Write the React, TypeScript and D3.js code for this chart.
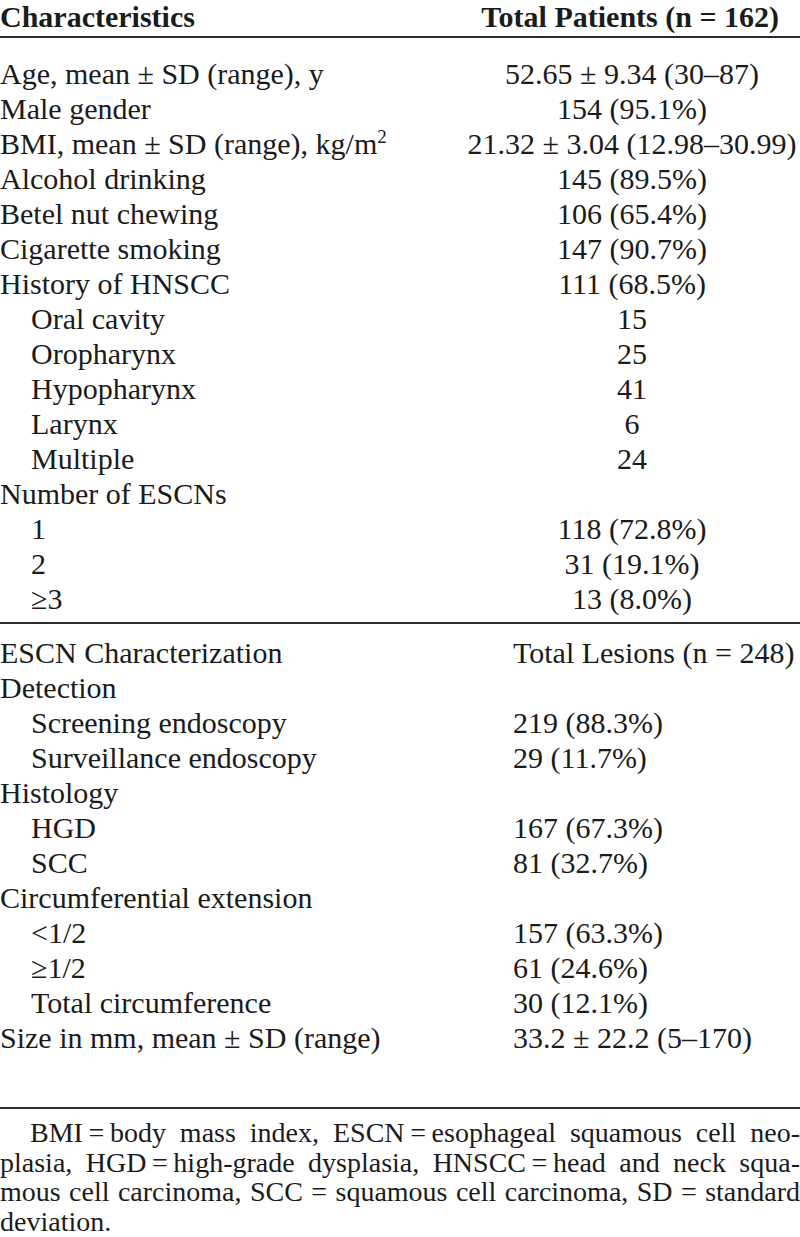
import * as d3 from "d3";
import { useEffect, useRef } from "react";

// top block: patient characteristics
const patientLabels = [
  "Age, mean ± SD (range), y",
  "Male gender",
  "BMI, mean ± SD (range), kg/m^2",
  "Alcohol drinking",
  "Betel nut chewing",
  "Cigarette smoking",
  "History of HNSCC",
  "Oral cavity",
  "Oropharynx",
  "Hypopharynx",
  "Larynx",
  "Multiple",
  "Number of ESCNs",
  "1",
  "2",
  "≥3",
];
const patientValues = [
  "52.65 ± 9.34 (30–87)",
  "154 (95.1%)",
  "21.32 ± 3.04 (12.98–30.99)",
  "145 (89.5%)",
  "106 (65.4%)",
  "147 (90.7%)",
  "111 (68.5%)",
  "15",
  "25",
  "41",
  "6",
  "24",
  "",
  "118 (72.8%)",
  "31 (19.1%)",
  "13 (8.0%)",
];
const patientLevels = [0, 0, 0, 0, 0, 0, 0, 1, 1, 1, 1, 1, 0, 1, 1, 1];

// bottom block: lesion characteristics
const lesionLabels = [
  "ESCN Characterization",
  "Detection",
  "Screening endoscopy",
  "Surveillance endoscopy",
  "Histology",
  "HGD",
  "SCC",
  "Circumferential extension",
  "<1/2",
  "≥1/2",
  "Total circumference",
  "Size in mm, mean ± SD (range)",
];
const lesionValues = [
  "Total Lesions (n = 248)",
  "",
  "219 (88.3%)",
  "29 (11.7%)",
  "",
  "167 (67.3%)",
  "81 (32.7%)",
  "",
  "157 (63.3%)",
  "61 (24.6%)",
  "30 (12.1%)",
  "33.2 ± 22.2 (5–170)",
];
const lesionLevels = [0, 0, 1, 1, 0, 1, 1, 0, 1, 1, 1, 0];

const headers = ["Characteristics", "Total Patients (n = 162)"];

const footnoteLines = [
  ["BMI\u2009=\u2009body", "mass", "index,", "ESCN\u2009=\u2009esophageal", "squamous", "cell", "neo-"],
  ["plasia,", "HGD\u2009=\u2009high-grade", "dysplasia,", "HNSCC\u2009=\u2009head", "and", "neck", "squa-"],
  ["mous", "cell", "carcinoma,", "SCC", "=", "squamous", "cell", "carcinoma,", "SD", "=", "standard"],
  ["deviation."],
];

export default function App() {
  const svgRef = useRef<SVGSVGElement>(null);

  useEffect(() => {
    draw();
  }, []);

  const draw = () => {
    document.body.style.margin = "0";
    const width = 800;
    const height = 1237;
    const font = '"Liberation Serif", "Times New Roman", serif';
    const ink = "#1b1b1b";
    const indent = 31;

    const svg = d3
      .select(svgRef.current)
      .attr("width", width)
      .attr("height", height)
      .attr("font-family", font)
      .attr("fill", ink);
    svg.selectAll("*").remove();

    // label with optional superscript ("kg/m^2")
    const rich = (sel: any, s: string) => {
      const [base, sup] = s.split("^");
      sel.append("tspan").text(base);
      if (sup) sel.append("tspan").attr("dy", -11).attr("font-size", 19).text(sup);
    };

    // header
    const head = svg.append("g").attr("font-size", 30).attr("font-weight", "bold");
    head.append("text").attr("x", 0).attr("y", 27).text(headers[0]);
    head
      .append("text")
      .attr("x", 779)
      .attr("y", 27)
      .attr("text-anchor", "end")
      .text(headers[1]);

    const rules = [37, 623, 1108];
    svg
      .selectAll("line.rule")
      .data(rules)
      .join("line")
      .attr("class", "rule")
      .attr("x1", 0)
      .attr("x2", width)
      .attr("y1", (d) => d)
      .attr("y2", (d) => d)
      .attr("stroke", "#2a2a2a")
      .attr("stroke-width", 2);

    // top rows
    const yTop = d3
      .scaleLinear()
      .domain([0, patientLabels.length - 1])
      .range([84, 609]);
    const top = svg.append("g").attr("font-size", 30);
    top
      .selectAll("text.label")
      .data(patientLabels)
      .join("text")
      .attr("class", "label")
      .attr("x", (d, i) => patientLevels[i] * indent)
      .attr("y", (d, i) => yTop(i))
      .each(function (d) {
        rich(d3.select(this), d);
      });
    top
      .selectAll("text.value")
      .data(patientValues)
      .join("text")
      .attr("class", "value")
      .attr("x", 632)
      .attr("y", (d, i) => yTop(i))
      .attr("text-anchor", "middle")
      .text((d) => d);

    // bottom rows
    const yBot = d3
      .scaleLinear()
      .domain([0, lesionLabels.length - 1])
      .range([663, 1048]);
    const bot = svg.append("g").attr("font-size", 30);
    bot
      .selectAll("text.label")
      .data(lesionLabels)
      .join("text")
      .attr("class", "label")
      .attr("x", (d, i) => lesionLevels[i] * indent)
      .attr("y", (d, i) => yBot(i))
      .text((d) => d);
    bot
      .selectAll("text.value")
      .data(lesionValues)
      .join("text")
      .attr("class", "value")
      .attr("x", 513)
      .attr("y", (d, i) => yBot(i))
      .text((d) => d);

    // footnote, justified
    const yFoot = d3
      .scaleLinear()
      .domain([0, footnoteLines.length - 1])
      .range([1142, 1231]);
    const foot = svg.append("g").attr("font-size", 28);
    footnoteLines.forEach((words, li) => {
      const left = li === 0 ? 30 : 0;
      const last = li === footnoteLines.length - 1;
      const nodes = words.map((w) =>
        foot.append("text").attr("y", yFoot(li)).text(w)
      );
      const widths = nodes.map((n) => (n.node() as SVGTextElement).getComputedTextLength());
      const total = d3.sum(widths);
      const gap =
        last || words.length < 2 ? 7 : (width - left - total) / (words.length - 1);
      let x = left;
      nodes.forEach((n, i) => {
        n.attr("x", x);
        x += widths[i] + gap;
      });
    });
  };

  return <svg ref={svgRef} style={{ display: "block" }}></svg>;
}
